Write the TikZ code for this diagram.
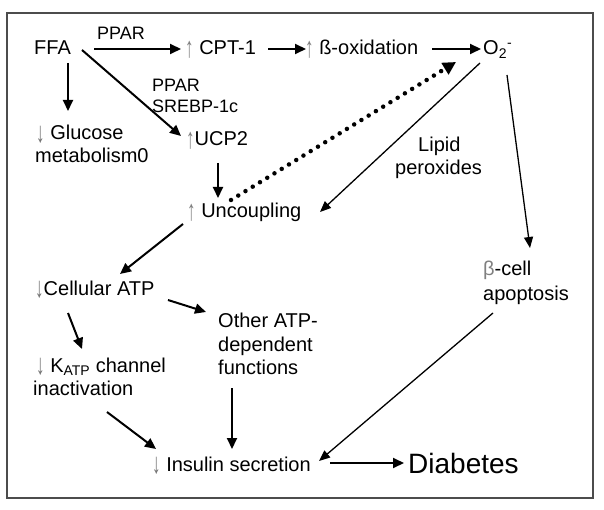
\documentclass[tikz,border=0pt]{standalone}
\usepackage{fontspec}
\setmainfont{Liberation Sans}
\usetikzlibrary{arrows.meta,calc}
\begin{document}
\begin{tikzpicture}[x=1pt,y=-1pt,
  txt/.style={inner sep=0pt,anchor=base west,font=\fontsize{20}{24}\selectfont},
  lbl/.style={inner sep=0pt,anchor=base west,font=\fontsize{18}{22}\selectfont},
  arr/.style={line width=2pt,-{Triangle[length=11pt,width=10pt]}},
  tarr/.style={line width=1.3pt,-{Triangle[length=11pt,width=9pt]}},
  dots/.style={line width=4.5pt,line cap=round,dash pattern=on 0pt off 8.5pt,-{Triangle[length=13pt,width=13pt]}}]
\newcommand{\gup}{\textcolor{gray}{\raisebox{-2.5pt}{\scalebox{0.85}[1.45]{↑}}}}
\newcommand{\gdn}{\textcolor{gray!90!black}{\raisebox{-2.5pt}{\scalebox{0.85}[1.45]{↓}}}}
\useasboundingbox (0,0) rectangle (604,510);
\fill[white] (0,0) rectangle (604,510);
\draw[line width=2.8pt,black!70] (7,13) rectangle (593,498);
% nodes
\node[txt] (ffa) at (34,55) {FFA};
\node[lbl] (ppar1) at (97,40) {PPAR};
\node[txt] (cpt) at (185,55) {\gup{} CPT-1};
\node[txt] (box) at (305,55) {\gup{} ß-oxidation};
\node[txt] (o2) at (483,55) {O\textsubscript{2}\textsuperscript{-}};
\node[lbl] (ppar2) at (152,92) {PPAR};
\node[lbl] (srebp) at (152,113) {SREBP-1c};
\node[txt] (glu1) at (36,140) {\gdn{} Glucose};
\node[txt] (glu2) at (35,163) {metabolism0};
\node[txt] (ucp) at (186,146) {\gup{}UCP2};
\node[txt] (unc) at (187,218) {\gup{} Uncoupling};
\node[txt] (lip1) at (418,152) {Lipid};
\node[txt] (lip2) at (395,175) {peroxides};
\node[txt] (bc1) at (483,276) {\textcolor{gray}{β}-cell};
\node[txt] (bc2) at (483,300) {apoptosis};
\node[txt] (atp) at (35,295) {\gdn{}Cellular ATP};
\node[txt] (oth1) at (218,327) {Other ATP-};
\node[txt] (oth2) at (218,351) {dependent};
\node[txt] (oth3) at (218,374) {functions};
\node[txt] (k1) at (36,372) {\gdn{} K\textsubscript{ATP} channel};
\node[txt] (k2) at (33,395) {inactivation};
\node[txt] (ins) at (152,471) {\gdn{} Insulin secretion};
\node[inner sep=0pt,anchor=base west,font=\fontsize{28}{32}\selectfont] (dia) at (408,473) {Diabetes};
% connectors
\draw[arr] ($(ffa.base west)+(60,-6)$) -- ($(cpt.base west)+(-4,-6)$);
\draw[arr] ($(cpt.base west)+(83,-6)$) -- ($(box.base west)+(1,-6)$);
\draw[arr] ($(box.base west)+(127,-6)$) -- ($(o2.base west)+(-2,-6)$);
\draw[arr] ($(ffa.base west)+(34,8)$) -- ($(glu1.base west)+(32,-29)$);
\draw[arr] ($(ffa.base west)+(48,-5)$) -- ($(ucp.base west)+(-5,-10)$);
\draw[arr] ($(ucp.base west)+(32,17)$) -- ($(unc.base west)+(31,-20)$);
\draw[dots] ($(unc.base west)+(44,-18)$) -- ($(o2.base west)+(-27,7)$);
\draw[tarr] ($(o2.base west)+(-3,8)$) -- ($(unc.base west)+(133,-6)$);
\draw[tarr] ($(o2.base west)+(24,20)$) -- ($(bc1.base west)+(47,-28)$);
\draw[arr] ($(unc.base west)+(-4,6)$) -- ($(atp.base west)+(85,-21)$);
\draw[arr] ($(atp.base west)+(133,5)$) -- ($(oth1.base west)+(-12,-15)$);
\draw[arr] ($(atp.base west)+(33,18)$) -- ($(k1.base west)+(46,-23)$);
\draw[arr] ($(k2.base west)+(74,17)$) -- ($(ins.base west)+(4,-22)$);
\draw[arr] ($(oth3.base west)+(14,14)$) -- ($(ins.base west)+(80,-22)$);
\draw[tarr] ($(bc2.base west)+(10,13)$) -- ($(ins.base west)+(167,-10)$);
\draw[arr] ($(ins.base west)+(178,-8)$) -- ($(dia.base west)+(-4,-10)$);
\end{tikzpicture}
\end{document}
